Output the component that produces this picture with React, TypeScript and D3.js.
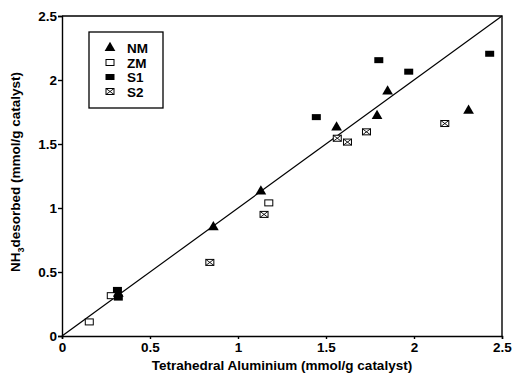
import React, { useEffect, useRef } from 'react';
import * as d3 from 'd3';

// values
const nmX = [0.32, 0.86, 1.13, 1.56, 1.79, 1.85, 2.31];
const nmY = [0.33, 0.85, 1.13, 1.63, 1.72, 1.91, 1.76];
const zmX = [0.155, 0.28, 1.175];
const zmY = [0.11, 0.315, 1.04];
const s1X = [0.315, 0.32, 1.445, 1.80, 1.97, 2.43];
const s1Y = [0.36, 0.30, 1.71, 2.155, 2.065, 2.205];
const s2X = [0.84, 1.148, 1.564, 1.622, 1.73, 2.175];
const s2Y = [0.575, 0.95, 1.545, 1.515, 1.595, 1.66];
const ticks = [0, 0.5, 1, 1.5, 2, 2.5];
const series = ['NM', 'ZM', 'S1', 'S2'];

const App = () => {
    const ref = useRef(null);

    useEffect(() => {
        const margin = { top: 16, right: 11, bottom: 37, left: 62 },
            width = 513 - margin.left - margin.right,
            height = 373 - margin.top - margin.bottom;

        const root = d3.select(ref.current);
        root.selectAll("*").remove();
        root.attr("width", 513).attr("height", 373)
            .style("font-family", "'Liberation Sans', Arial, sans-serif");

        const svg = root.append("g")
            .attr("transform", `translate(${margin.left},${margin.top})`);

        const x = d3.scaleLinear().domain([0, 2.5]).range([0, width]);
        const y = d3.scaleLinear().domain([0, 2.5]).range([height, 0]);

        const xAxis = svg.append("g")
            .attr("transform", `translate(0,${height})`)
            .call(d3.axisBottom(x).tickValues(ticks).tickFormat(d3.format("")).tickSize(3).tickPadding(3));
        const yAxis = svg.append("g")
            .call(d3.axisLeft(y).tickValues(ticks).tickFormat(d3.format("")).tickSize(4).tickPadding(1));
        [xAxis, yAxis].forEach(a => {
            a.selectAll("path, line").attr("stroke", "#000").attr("stroke-width", 1.4);
            a.selectAll("text").attr("fill", "#000").style("font-size", "13.5px").style("font-weight", "bold");
        });

        // frame top and right
        svg.append("path")
            .attr("d", `M0,0H${width}V${height}`)
            .attr("fill", "none").attr("stroke", "#000").attr("stroke-width", 1.4);

        // 1:1 line
        svg.append("line")
            .attr("x1", x(0)).attr("y1", y(0)).attr("x2", x(2.5)).attr("y2", y(2.5))
            .attr("stroke", "#000").attr("stroke-width", 1.2);

        const tri = d3.symbol().type(d3.symbolTriangle).size(50);

        const drawMarker = (g, name, cx, cy) => {
            if (name === 'NM') {
                g.append("path").attr("d", tri).attr("transform", `translate(${cx},${cy})`).attr("fill", "#000");
            } else if (name === 'ZM') {
                g.append("rect").attr("x", cx - 4).attr("y", cy - 3).attr("width", 8).attr("height", 6)
                    .attr("fill", "#fff").attr("stroke", "#000").attr("stroke-width", 1);
            } else if (name === 'S1') {
                g.append("rect").attr("x", cx - 4.5).attr("y", cy - 3).attr("width", 9).attr("height", 6)
                    .attr("fill", "#000");
            } else {
                g.append("rect").attr("x", cx - 4).attr("y", cy - 3).attr("width", 8).attr("height", 6)
                    .attr("fill", "#fff").attr("stroke", "#000").attr("stroke-width", 1);
                g.append("path").attr("d", `M${cx - 4},${cy - 3}L${cx + 4},${cy + 3}M${cx + 4},${cy - 3}L${cx - 4},${cy + 3}`)
                    .attr("stroke", "#000").attr("stroke-width", 0.9);
            }
        };

        const pts = svg.append("g");
        zmX.forEach((v, i) => drawMarker(pts, 'ZM', x(v), y(zmY[i])));
        s2X.forEach((v, i) => drawMarker(pts, 'S2', x(v), y(s2Y[i])));
        nmX.forEach((v, i) => drawMarker(pts, 'NM', x(v), y(nmY[i])));
        s1X.forEach((v, i) => drawMarker(pts, 'S1', x(v), y(s1Y[i])));

        // legend
        const leg = root.append("g").attr("transform", "translate(89,32)");
        leg.append("rect").attr("width", 74).attr("height", 76)
            .attr("fill", "#fff").attr("stroke", "#000").attr("stroke-width", 1.3);
        series.forEach((s, i) => {
            const cy = 16 + i * 14.5;
            drawMarker(leg, s, 21, cy);
            leg.append("text").attr("x", 38).attr("y", cy + 5)
                .style("font-size", "13.5px").style("font-weight", "bold").text(s);
        });

        // axis titles
        root.append("text")
            .attr("x", margin.left + width / 2).attr("y", 370)
            .attr("text-anchor", "middle")
            .style("font-size", "13.5px").style("font-weight", "bold")
            .text("Tetrahedral Aluminium (mmol/g catalyst)");

        const yt = root.append("text")
            .attr("transform", `translate(20,${margin.top + height / 2 - 4}) rotate(-90)`)
            .attr("text-anchor", "middle")
            .style("font-size", "13.5px").style("font-weight", "bold");
        yt.append("tspan").text("NH");
        yt.append("tspan").attr("dy", 4).style("font-size", "9px").text("3");
        yt.append("tspan").attr("dy", -4).text("desorbed (mmol/g catalyst)");
    }, []);

    return <svg ref={ref} style={{ position: 'absolute', left: 0, top: 0 }} />;
};

export default App;
